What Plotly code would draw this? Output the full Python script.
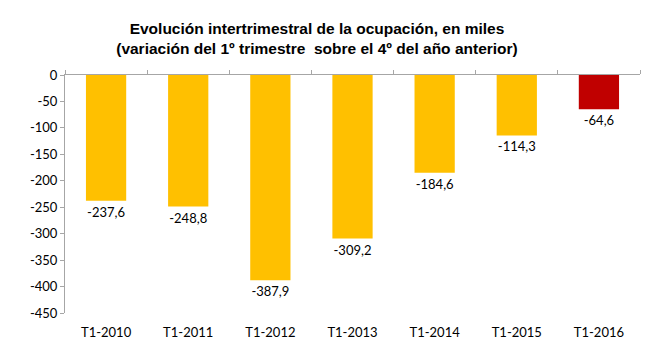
import plotly.graph_objects as go

categories = ["T1-2010", "T1-2011", "T1-2012", "T1-2013", "T1-2014", "T1-2015", "T1-2016"]
values = [-237.6, -248.8, -387.9, -309.2, -184.6, -114.3, -64.6]
labels = ["-237,6", "-248,8", "-387,9", "-309,2", "-184,6", "-114,3", "-64,6"]
colors = ["#FFC000"] * 6 + ["#C00000"]
y_ticks = [0, -50, -100, -150, -200, -250, -300, -350, -400, -450]

fig = go.Figure()
fig.add_trace(go.Bar(
    x=list(range(len(categories))), y=values, text=labels,
    textposition="outside", cliponaxis=False,
    textfont=dict(family="Lato, Carlito, sans-serif", size=13, color="#000000"),
    marker=dict(color=colors, line=dict(width=0)),
    width=0.49, hoverinfo="skip", showlegend=False,
))
# invisible trace on the top category axis
fig.add_trace(go.Scatter(x=[0], y=[0], xaxis="x2", mode="markers",
                         marker=dict(opacity=0), showlegend=False, hoverinfo="skip"))

fig.update_layout(
    width=662, height=356,
    margin=dict(l=65, r=22, t=75, b=43, autoexpand=False),
    paper_bgcolor="white", plot_bgcolor="white",
    title=dict(
        text="Evolución intertrimestral de la ocupación, en miles<br>(variación del 1º trimestre  sobre el 4º del año anterior)",
        x=317 / 662, xanchor="center", y=1 - 34 / 356, yanchor="middle",
        yref="container",
        font=dict(family="Liberation Sans Narrow, Arial Narrow, Liberation Sans, Arial, sans-serif",
                  size=15.5, color="#000000", weight="bold"),
    ),
    xaxis=dict(
        range=[-0.5, len(categories) - 0.5], automargin=False,
        tickmode="array", tickvals=list(range(len(categories))), ticktext=categories,
        showline=False, showgrid=False, zeroline=False, ticks="",
        tickfont=dict(family="Lato, Carlito, sans-serif", size=13, color="#000000"),
        ticklabelstandoff=10,
    ),
    xaxis2=dict(
        overlaying="x", anchor="y", side="top", automargin=False,
        range=[-0.5, len(categories) - 0.5],
        tickmode="array", tickvals=[i - 0.5 for i in range(len(categories) + 1)],
        showticklabels=False, ticks="outside", ticklen=4, tickcolor="#A6A6A6",
        showline=True, linecolor="#A6A6A6", linewidth=1,
        showgrid=False, zeroline=False,
    ),
    yaxis=dict(
        range=[-450, 0], tickmode="array", tickvals=y_ticks, automargin=False,
        ticktext=[str(v) for v in y_ticks],
        showline=True, linecolor="#A6A6A6", linewidth=1,
        ticks="outside", ticklen=4, tickcolor="#A6A6A6",
        showgrid=False, zeroline=False,
        tickfont=dict(family="Lato, Carlito, sans-serif", size=13, color="#000000"),
    ),
    bargap=0.51,
)

fig.write_html("out.html", config={"displayModeBar": False, "staticPlot": True},
               post_script="document.body.style.margin='0';document.body.style.overflow='hidden';")
